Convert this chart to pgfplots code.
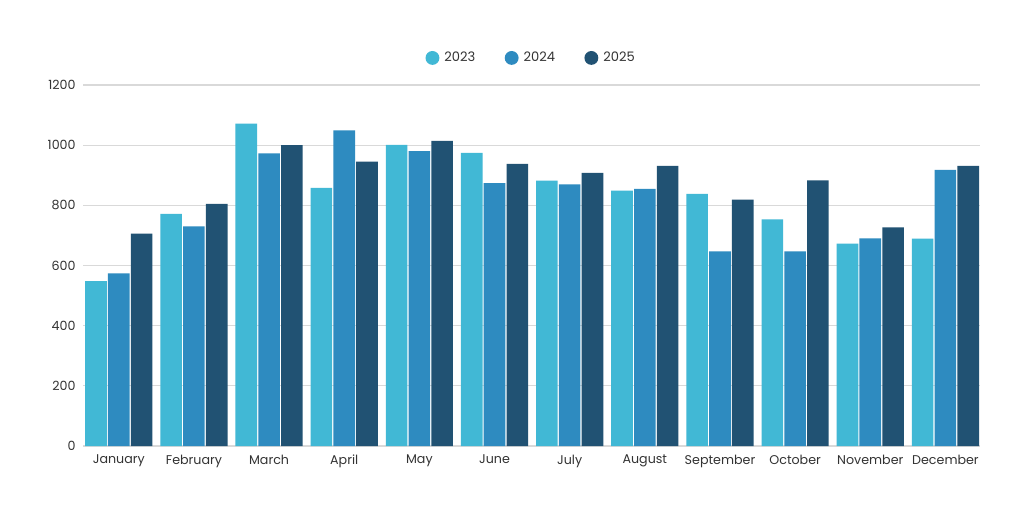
\documentclass[border=0pt]{standalone}
\usepackage{fontspec}
\setmainfont{Poppins}
\usepackage{pgfplots}
\pgfplotsset{compat=1.18}
\definecolor{cA}{HTML}{41B8D5}
\definecolor{cB}{HTML}{2E8BC0}
\definecolor{cC}{HTML}{215273}
\definecolor{txt}{HTML}{333333}
\definecolor{gridc}{HTML}{D9D9D9}
\begin{document}
\begin{tikzpicture}
\path[use as bounding box, fill=white] (0,0) rectangle (768pt,384pt);
\begin{axis}[
  at={(62.25pt,49.5pt)}, anchor=south west,
  scale only axis,
  width=672.75pt, height=270.75pt,
  ybar=0.9pt, bar width=16.2pt,
  xmin=-0.476, xmax=11.46,
  ymin=0, ymax=1200,
  ytick={0,200,...,1200},
  xtick={0,...,11},
  xticklabels={January,February,March,April,May,June,July,August,September,October,November,December},
  major tick length=0pt,
  axis line style={draw=none},
  xmajorgrids=false, ymajorgrids=true,
  major grid style={draw=gridc, line width=0.8pt},
  tick label style={font=\fontsize{9.5}{11}\selectfont, text=txt},
  /pgf/number format/assume math mode=true,
  /pgf/number format/1000 sep={},
  yticklabel style={xshift=-2pt},
  xticklabel style={yshift=-3pt},
  legend style={at={(0.5,1.075)}, anchor=center, draw=none, fill=none,
    legend columns=3, font=\fontsize{9.8}{11}\selectfont, text=txt,
    /tikz/every even column/.append style={column sep=20pt}},
  legend image code/.code={\fill[#1] (0pt,0pt) circle (5.2pt); \path (7pt,0pt);},
]
\addplot[fill=cA, draw=none] coordinates {
  (0,548) (1,772) (2,1072) (3,858) (4,1001) (5,974)
  (6,882) (7,849) (8,838) (9,753) (10,673) (11,689)
};
\addlegendentry{2023}
\addplot[fill=cB, draw=none] coordinates {
  (0,574) (1,730) (2,973) (3,1049) (4,980) (5,874)
  (6,870) (7,855) (8,647) (9,647) (10,690) (11,918)
};
\addlegendentry{2024}
\addplot[fill=cC, draw=none] coordinates {
  (0,706) (1,805) (2,1000) (3,945) (4,1014) (5,938)
  (6,908) (7,931) (8,819) (9,883) (10,727) (11,931)
};
\addlegendentry{2025}
\end{axis}
\end{tikzpicture}
\end{document}
